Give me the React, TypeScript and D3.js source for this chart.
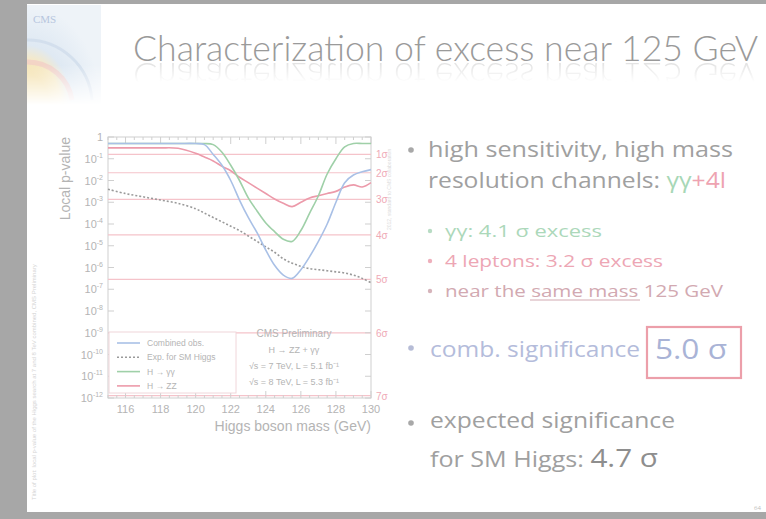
import React from "react";
import * as d3 from "d3";

// Higgs mass points (GeV)
const masses = [115, 116, 117, 118, 119, 120, 120.5, 121, 121.5, 122, 122.5, 123, 123.5, 124, 124.5, 125, 125.5, 126, 126.5, 127, 127.5, 128, 128.5, 129, 129.5, 130];
// log10 of local p-value
const combinedObs = [-0.3, -0.3, -0.3, -0.3, -0.3, -0.3, -0.35, -0.8, -1.3, -2.0, -2.9, -3.7, -4.4, -5.2, -5.9, -6.35, -6.5, -6.1, -5.5, -4.8, -4.0, -3.0, -2.1, -1.75, -1.6, -1.5];
const expectedSM = [-2.4, -2.6, -2.75, -2.9, -3.05, -3.3, -3.5, -3.7, -3.9, -4.1, -4.3, -4.55, -4.8, -5.05, -5.3, -5.6, -5.8, -5.95, -6.05, -6.1, -6.15, -6.2, -6.25, -6.35, -6.5, -6.7];
const gammaGamma = [-0.3, -0.3, -0.3, -0.3, -0.3, -0.3, -0.3, -0.35, -0.7, -1.3, -2.0, -2.8, -3.4, -3.95, -4.35, -4.7, -4.8, -4.3, -3.5, -2.7, -1.7, -1.0, -0.45, -0.3, -0.3, -0.3];
const zz = [-0.5, -0.5, -0.5, -0.5, -0.52, -0.75, -0.92, -1.1, -1.35, -1.55, -1.85, -2.1, -2.35, -2.6, -2.85, -3.05, -3.2, -3.0, -2.8, -2.7, -2.6, -2.5, -2.3, -2.2, -2.3, -2.1];

const sigmaLabels = ["1σ", "2σ", "3σ", "4σ", "5σ", "6σ", "7σ"];
const sigmaP = [0.1587, 0.02275, 1.35e-3, 3.17e-5, 2.87e-7, 9.87e-10, 1.28e-12];
const yTickExp = [0, -1, -2, -3, -4, -5, -6, -7, -8, -9, -10, -11, -12];
const xTicks = [116, 118, 120, 122, 124, 126, 128, 130];

const legendItems = [
  { label: "Combined obs.", color: "#a9c0e6", dash: "" },
  { label: "Exp. for SM Higgs", color: "#9a9a9a", dash: "2,2" },
  { label: "H → γγ", color: "#9fd0a8", dash: "" },
  { label: "H → ZZ", color: "#ec9aaa", dash: "" },
];
const infoLines = ["CMS Preliminary", "H → ZZ + γγ", "√s = 7 TeV, L = 5.1 fb⁻¹", "√s = 8 TeV, L = 5.3 fb⁻¹"];

const W = 766, H = 519;
const plot = { left: 108, right: 371, top: 137, bottom: 398 };

export default function App() {
  const x = d3.scaleLinear().domain([115, 130]).range([plot.left, plot.right]);
  const y = d3.scaleLog().domain([1e-12, 1]).range([plot.bottom, plot.top]);
  const line = d3.line<number>()
    .x((_, i) => x(masses[i]))
    .y(d => y(Math.pow(10, d)))
    .curve(d3.curveCatmullRom);

  const series = [
    { vals: expectedSM, color: "#9a9a9a", dash: "2,2" },
    { vals: zz, color: "#ec9aaa", dash: "" },
    { vals: gammaGamma, color: "#9fd0a8", dash: "" },
    { vals: combinedObs, color: "#a9c0e6", dash: "" },
  ];

  const minorX = d3.range(115, 130.01, 0.5);
  const titleFont = "Lato, 'Open Sans', sans-serif";
  const slideFont = "'Open Sans', Lato, sans-serif";
  const plotFont = "'Liberation Sans', Arial, sans-serif";
  const txt = "#a0a0a0";
  const fit = "spacingAndGlyphs";

  return (
    <svg width={W} height={H} style={{ position: "fixed", left: 0, top: 0 }}>
      <defs>
        <linearGradient id="refl" x1="0" y1="0" x2="0" y2="1">
          <stop offset="0" stopColor="#fff" stopOpacity={0.3} />
          <stop offset="1" stopColor="#fff" stopOpacity={0} />
        </linearGradient>
        <mask id="reflMask">
          <rect x={0} y={62} width={W} height={20} fill="url(#refl)" />
        </mask>
        <radialGradient id="logo" cx="0" cy="1" r="1">
          <stop offset="0.3" stopColor="#f4e2b0" />
          <stop offset="0.45" stopColor="#f6e9c6" />
          <stop offset="0.6" stopColor="#dfe9f3" />
          <stop offset="1" stopColor="#eef3f8" />
        </radialGradient>
        <linearGradient id="logoFade" x1="0" y1="0" x2="0" y2="1">
          <stop offset="0.6" stopColor="#fff" stopOpacity={1} />
          <stop offset="1" stopColor="#fff" stopOpacity={0} />
        </linearGradient>
        <mask id="logoMask">
          <rect x={27} y={5} width={76} height={100} fill="url(#logoFade)" />
        </mask>
      </defs>

      {/* page background and slide */}
      <rect x={0} y={0} width={W} height={H} fill="#a7a7a7" />
      <rect x={27} y={4} width={W - 27} height={508} fill="#ffffff" />

      {/* logo */}
      <g mask="url(#logoMask)">
        <rect x={27} y={5} width={74} height={100} fill="url(#logo)" />
        <path d="M27,62 A45,45 0 0 1 72,100" fill="none" stroke="#f2c6c6" strokeWidth={5} opacity={0.6} />
        <path d="M27,40 A65,65 0 0 1 92,100" fill="none" stroke="#cfdceb" strokeWidth={3} opacity={0.8} />
      </g>
      <text x={33} y={23} fontFamily="'Liberation Serif', serif" fontSize={11} fill="#b7c6de">CMS</text>

      {/* title and its reflection */}
      <g id="slideTitle" transform="translate(133,61) scale(1,1.1)">
        <text x={0} y={0} fontFamily={titleFont} fontWeight={300} fontSize={33} fill="#9a9a9a" textLength={625} lengthAdjust={fit}>
          Characterization of excess near 125 GeV
        </text>
      </g>
      <g mask="url(#reflMask)">
        <use href="#slideTitle" transform="translate(0,124) scale(1,-1)" />
      </g>

      {/* faint side captions */}
      <text transform="translate(36,500) rotate(-90)" fontFamily={plotFont} fontSize={6} fill="#d4d4d4">
        Title of plot: local p-value of the Higgs search at 7 and 8 TeV combined, CMS Preliminary
      </text>
      <text transform="translate(391,230) rotate(-90)" fontFamily={plotFont} fontSize={5} fill="#dcdcdc">
        2012, standard to CMS collaboration
      </text>

      {/* plot */}
      <g fontFamily={plotFont}>
        <rect x={plot.left} y={plot.top} width={plot.right - plot.left} height={plot.bottom - plot.top} fill="#fff" stroke="#cfcfcf" />
        {sigmaP.map((p, i) => (
          <g key={i}>
            <line x1={plot.left} x2={plot.right} y1={y(p)} y2={y(p)} stroke="#f5c3ca" strokeWidth={1.2} />
            <text x={plot.right + 5} y={y(p) + 4} fontSize={10} fill="#efaab6">{sigmaLabels[i]}</text>
          </g>
        ))}
        {yTickExp.map(e => (
          <g key={e}>
            <line x1={plot.left} x2={plot.left + 6} y1={y(Math.pow(10, e))} y2={y(Math.pow(10, e))} stroke="#cfcfcf" />
            <line x1={plot.right} x2={plot.right - 6} y1={y(Math.pow(10, e))} y2={y(Math.pow(10, e))} stroke="#cfcfcf" />
            <text x={plot.left - 5} y={y(Math.pow(10, e)) + 4} fontSize={11} fill="#b4b4b4" textAnchor="end">
              {e === 0 ? "1" : <>10<tspan dy={-5} fontSize={7}>{e}</tspan></>}
            </text>
          </g>
        ))}
        {minorX.map(m => (
          <g key={m}>
            <line x1={x(m)} x2={x(m)} y1={plot.bottom} y2={plot.bottom - (m % 2 === 0 ? 7 : 3)} stroke="#cfcfcf" />
            <line x1={x(m)} x2={x(m)} y1={plot.top} y2={plot.top + (m % 2 === 0 ? 7 : 3)} stroke="#cfcfcf" />
          </g>
        ))}
        {xTicks.map(t => (
          <text key={t} x={x(t)} y={plot.bottom + 15} fontSize={11} fill="#b4b4b4" textAnchor="middle">{t}</text>
        ))}
        <text x={plot.right} y={431} fontSize={14} fill="#b4b4b4" textAnchor="end">Higgs boson mass (GeV)</text>
        <text transform={`translate(70,${plot.top}) rotate(-90)`} fontSize={14} fill="#b4b4b4" textAnchor="end">Local p-value</text>

        {series.map((s, i) => (
          <path key={i} d={line(s.vals) || ""} fill="none" stroke={s.color} strokeWidth={1.6} strokeDasharray={s.dash} />
        ))}

        {/* legend */}
        <rect x={plot.left + 1} y={332} width={127} height={61} fill="#fff" stroke="#f0d6da" />
        {legendItems.map((it, i) => (
          <g key={it.label}>
            <line x1={117} x2={140} y1={343 + i * 14.3} y2={343 + i * 14.3} stroke={it.color} strokeWidth={1.6} strokeDasharray={it.dash} />
            <text x={147} y={346 + i * 14.3} fontSize={8.5} fill="#b4b4b4">{it.label}</text>
          </g>
        ))}
        {infoLines.map((l, i) => (
          <text key={l} x={294} y={337 + i * 16} fontSize={i === 0 ? 10 : 9} fill="#b4b4b4" textAnchor="middle">{l}</text>
        ))}
      </g>

      {/* bullets */}
      <g fontFamily={slideFont}>
        <circle cx={411} cy={150} r={2.8} fill="#a8a8a8" />
        <text x={428} y={157} fontSize={22} fill={txt} textLength={305} lengthAdjust={fit}>high sensitivity, high mass</text>
        <text x={428} y={188} fontSize={22} fill={txt} textLength={298} lengthAdjust={fit}>
          resolution channels: <tspan fill="#a7d7b6">γγ</tspan><tspan fill="#eea3b1">+4l</tspan>
        </text>

        <circle cx={430} cy={231} r={2.2} fill="#b8dcc4" />
        <text x={445} y={237} fontSize={17} fill="#acd8ba" textLength={157} lengthAdjust={fit}>γγ:  4.1 σ excess</text>
        <circle cx={430} cy={261} r={2.2} fill="#eeb0bc" />
        <text x={445} y={267} fontSize={17} fill="#eda6b4" textLength={218} lengthAdjust={fit}>4 leptons: 3.2 σ excess</text>
        <circle cx={430} cy={291} r={2.2} fill="#d6b4bb" />
        <text x={445} y={297} fontSize={17} fill="#d2a9b1" textLength={278} lengthAdjust={fit}>
          near the same mass 125 GeV
        </text>
        <line x1={530} x2={640} y1={300} y2={300} stroke="#d2a9b1" strokeWidth={1} />

        <circle cx={411} cy={348} r={2.8} fill="#b6bcd6" />
        <text x={430} y={357} fontSize={22} fill="#b4bcdb" textLength={210} lengthAdjust={fit}>comb. significance</text>
        <rect x={647} y={327} width={94} height={51} fill="#fff" stroke="#ec9faa" strokeWidth={2.2} />
        <text x={655} y={359} fontSize={27} fill="#a9b3d6" textLength={72} lengthAdjust={fit}>5.0 σ</text>

        <circle cx={411} cy={423} r={2.8} fill="#a8a8a8" />
        <text x={430} y={428} fontSize={22} fill={txt} textLength={245} lengthAdjust={fit}>expected significance</text>
        <text x={430} y={467} fontSize={22} fill={txt} textLength={228} lengthAdjust={fit}>
          for SM Higgs: <tspan fontSize={26} fill="#8e8e8e">4.7 σ</tspan>
        </text>

        <text x={754} y={510} fontSize={6} fill="#bdbdbd">64</text>
      </g>
    </svg>
  );
}
